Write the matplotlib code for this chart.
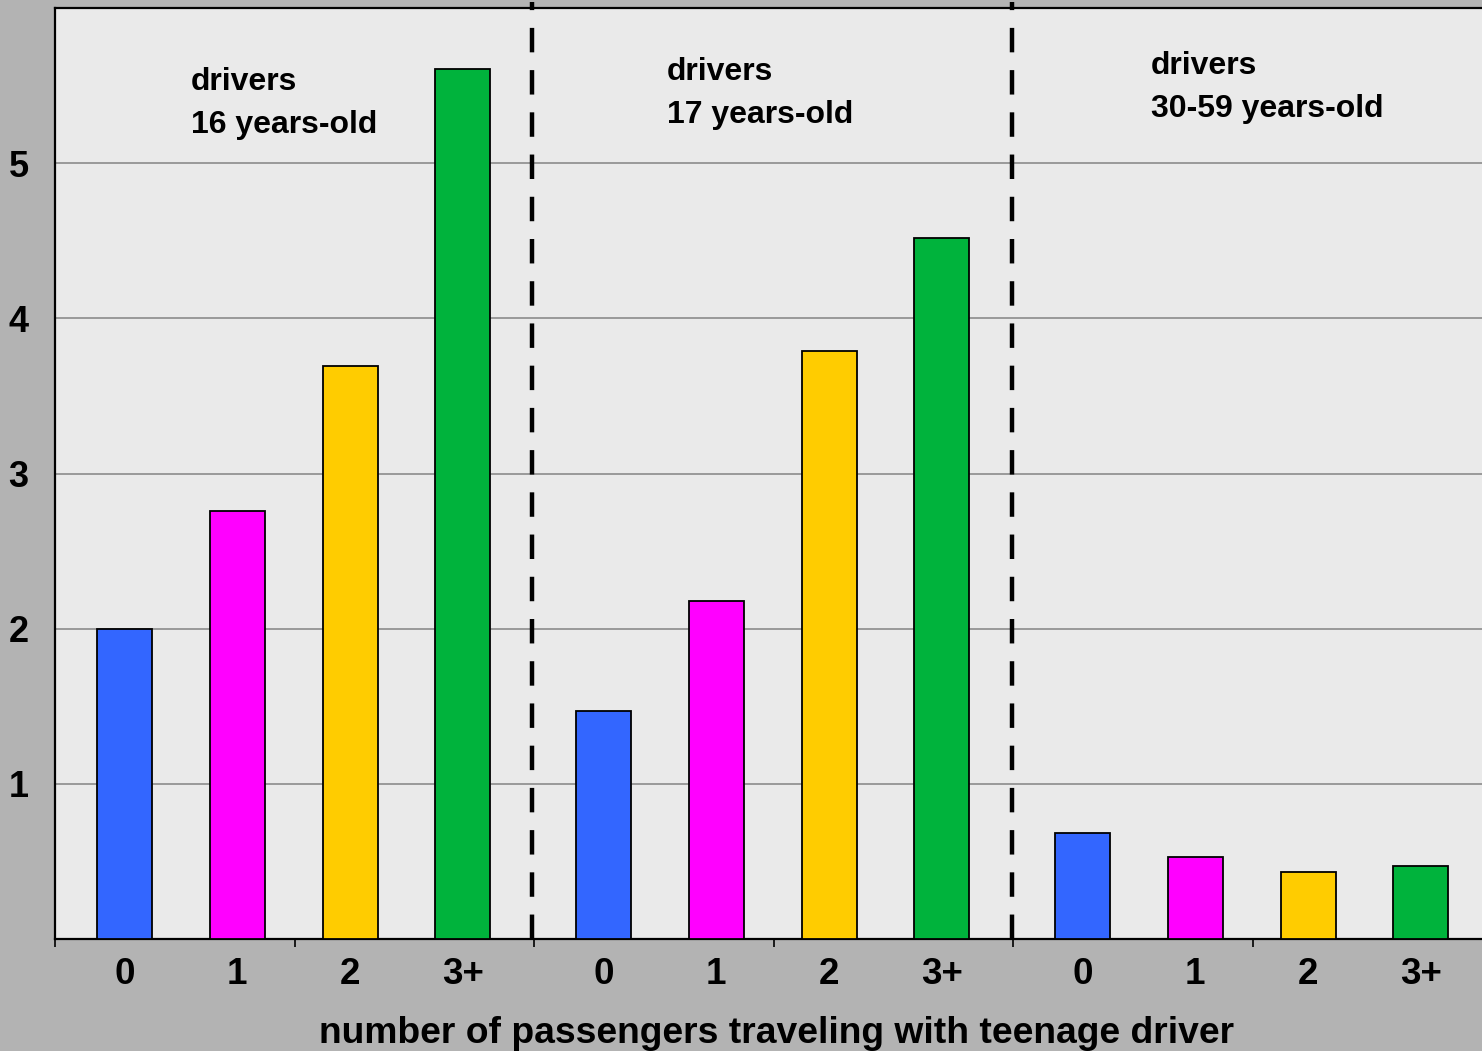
import matplotlib
matplotlib.use("Agg")
import matplotlib.pyplot as plt

plt.rcParams['font.family'] = ['Liberation Sans', 'DejaVu Sans']
plt.rcParams['font.weight'] = 'bold'

# crash rate per group, one bar per passenger count
passengers = ['0', '1', '2', '3+']
groups = ['16 years-old', '17 years-old', '30-59 years-old']
rate_16 = [2.0, 2.76, 3.69, 5.61]
rate_17 = [1.47, 2.18, 3.79, 4.52]
rate_adult = [0.68, 0.53, 0.43, 0.47]
bar_colors = ['#3366FF', '#FF00FF', '#FFCC00', '#00B33C']
y_ticks = [1, 2, 3, 4, 5]

fig = plt.figure(figsize=(14.82, 10.51), dpi=100, facecolor='#B3B3B3')
ax = fig.add_axes([55/1482, 112/1051, 1437/1482, 931/1051])
ax.set_facecolor('#EAEAEA')

#### each group takes two units of the x axis
group_width = 2.0
first_bar = 0.29
step = 0.471
centers = []
labels = []
for g, rates in enumerate([rate_16, rate_17, rate_adult]):
    for i, val in enumerate(rates):
        x = g * group_width + first_bar + i * step
        ax.bar(x, val, width=0.23, color=bar_colors[i], edgecolor='black',
               linewidth=1.3, zorder=3)
        centers.append(x)
        labels.append(passengers[i])

ax.set_xlim(0, 6)
ax.set_ylim(0, 6)

#### gridlines, y labels
ax.set_yticks(y_ticks)
ax.set_yticklabels([str(t) for t in y_ticks], fontsize=26, fontweight='bold')
ax.tick_params(axis='y', length=0, pad=19)
ax.yaxis.grid(True, color='#8c8c8c', linewidth=1.2, zorder=0)
ax.set_axisbelow(True)

#### group ticks on the bottom, passenger labels as minor ticks
ax.set_xticks(range(7))
ax.set_xticklabels([])
ax.tick_params(axis='x', which='major', length=6, width=1.2, direction='out')
ax.set_xticks(centers, minor=True)
ax.set_xticklabels(labels, minor=True, fontsize=26.5, fontweight='bold')
ax.tick_params(axis='x', which='minor', length=0, pad=13)

for side in ['left', 'bottom', 'top']:
    ax.spines[side].set_linewidth(1.6)
ax.spines['right'].set_visible(False)

#### dashed separators between groups
for xs in [1.992, 3.995]:
    ax.plot([xs, xs], [0, 6.04], color='black', linewidth=3.2,
            dashes=(5.5, 4.0), clip_on=False, zorder=4)

#### group titles
title_pos = [(0.568, 5.47), (2.555, 5.535), (4.576, 5.574)]
for (tx, ty), name in zip(title_pos, groups):
    ax.text(tx, ty, 'drivers', fontsize=23, fontweight='bold', va='baseline', ha='left')
    ax.text(tx, ty - 0.278, name, fontsize=23, fontweight='bold', va='baseline', ha='left')

fig.text(777/1482, 1 - 1043/1051, 'number of passengers traveling with teenage driver',
         fontsize=26.8, fontweight='bold', ha='center', va='baseline')

fig.savefig('out.png', dpi=100, facecolor=fig.get_facecolor())
